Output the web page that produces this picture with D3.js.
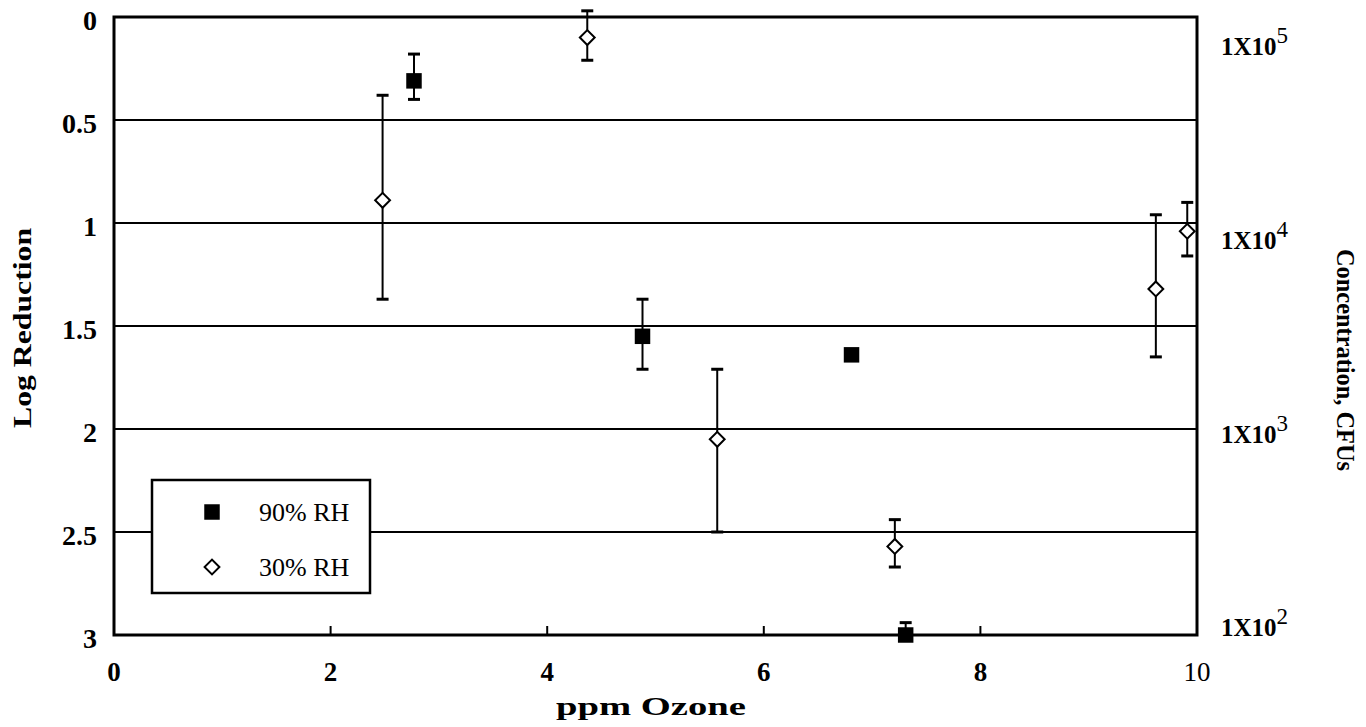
<!DOCTYPE html>
<html>
<head>
<meta charset="utf-8">
<script src="https://cdn.jsdelivr.net/npm/d3@7"></script>
<style>
  body { margin: 0; background: #fff; }
  svg { display: block; }
  text { font-family: "Liberation Serif", "DejaVu Serif", serif; fill: #000; }
</style>
</head>
<body>
<svg id="chart" width="1366" height="727"></svg>
<script>
// 90% RH (filled squares)
const rh90_x = [2.77, 4.88, 6.81, 7.31];
const rh90_y = [0.31, 1.55, 1.64, 3.0];
const rh90_lo = [0.18, 1.37, 1.62, 2.94];
const rh90_hi = [0.40, 1.71, 1.66, 3.0];

// 30% RH (open diamonds)
const rh30_x = [2.48, 4.37, 5.57, 7.21, 9.62, 9.91];
const rh30_y = [0.89, 0.10, 2.05, 2.57, 1.32, 1.04];
const rh30_lo = [0.38, -0.03, 1.71, 2.44, 0.96, 0.90];
const rh30_hi = [1.37, 0.21, 2.50, 2.67, 1.65, 1.16];

const xTicks = [0, 2, 4, 6, 8, 10];
const yTicks = [0, 0.5, 1, 1.5, 2, 2.5, 3];
const concTicks = [1e5, 1e4, 1e3, 1e2];
const concExp = ["5", "4", "3", "2"];

const svg = d3.select("#chart");
const mLeft = 114, mRight = 1197, mTop = 17, mBottom = 635;

const x = d3.scaleLinear().domain([0, 10]).range([mLeft, mRight]);
const y = d3.scaleLinear().domain([0, 3]).range([mTop, mBottom]);
// right-hand concentration axis (log)
const y2 = d3.scaleLog().domain([140000, 90]).range([mTop, mBottom]);

// gridlines
svg.append("g").selectAll("line")
  .data(yTicks.filter(d => d > 0 && d < 3))
  .enter().append("line")
  .attr("x1", mLeft).attr("x2", mRight)
  .attr("y1", d => y(d)).attr("y2", d => y(d))
  .attr("stroke", "#000").attr("stroke-width", 2);

// frame
svg.append("rect")
  .attr("x", mLeft).attr("y", mTop)
  .attr("width", mRight - mLeft).attr("height", mBottom - mTop)
  .attr("fill", "none").attr("stroke", "#000").attr("stroke-width", 3);

// x ticks (inside, short)
svg.append("g").selectAll("line")
  .data(xTicks.slice(1, -1))
  .enter().append("line")
  .attr("x1", d => x(d)).attr("x2", d => x(d))
  .attr("y1", mBottom).attr("y2", mBottom - 9)
  .attr("stroke", "#000").attr("stroke-width", 2);

// x tick labels
svg.append("g").selectAll("text")
  .data(xTicks)
  .enter().append("text")
  .attr("x", d => x(d)).attr("y", 681)
  .attr("text-anchor", "middle")
  .style("font-size", "27px")
  .style("font-weight", d => d === 10 ? "normal" : "bold")
  .text(d => d);

// y tick labels
svg.append("g").selectAll("text")
  .data(yTicks)
  .enter().append("text")
  .attr("x", 97).attr("y", d => y(d) + 13)
  .attr("text-anchor", "end")
  .style("font-size", "28px").style("font-weight", "bold")
  .text(d => d);

// right concentration labels
const conc = svg.append("g").selectAll("text")
  .data(concTicks)
  .enter().append("text")
  .attr("x", 1221).attr("y", d => y2(d) + 10)
  .style("font-size", "25px").style("font-weight", "bold");
conc.append("tspan").text("1X10");
conc.append("tspan").attr("dy", -12).style("font-size", "23px").style("font-weight", "normal")
  .text((d, i) => concExp[i]);

// axis titles
svg.append("text")
  .attr("transform", "translate(31," + 328 + ") rotate(-90)")
  .attr("text-anchor", "middle")
  .attr("textLength", 200).attr("lengthAdjust", "spacingAndGlyphs")
  .style("font-size", "25px").style("font-weight", "bold")
  .text("Log Reduction");
svg.append("text")
  .attr("transform", "translate(1337," + 360 + ") rotate(90)")
  .attr("text-anchor", "middle")
  .attr("textLength", 222).attr("lengthAdjust", "spacingAndGlyphs")
  .style("font-size", "25px").style("font-weight", "bold")
  .text("Concentration, CFUs");
svg.append("text")
  .attr("x", 651).attr("y", 715)
  .attr("text-anchor", "middle")
  .attr("textLength", 190).attr("lengthAdjust", "spacingAndGlyphs")
  .style("font-size", "25px").style("font-weight", "bold")
  .text("ppm Ozone");

// error bars
function errorBars(xs, lo, hi) {
  const g = svg.append("g").attr("stroke", "#000").attr("stroke-width", 2);
  const idx = d3.range(xs.length).filter(i => hi[i] - lo[i] > 0.05);
  g.selectAll(".v").data(idx).enter().append("line")
    .attr("x1", i => x(xs[i])).attr("x2", i => x(xs[i]))
    .attr("y1", i => y(lo[i])).attr("y2", i => y(hi[i]));
  g.selectAll(".t").data(idx).enter().append("line")
    .attr("x1", i => x(xs[i]) - 6).attr("x2", i => x(xs[i]) + 6)
    .attr("y1", i => y(lo[i])).attr("y2", i => y(lo[i])).attr("stroke-width", 3);
  g.selectAll(".b").data(idx.filter(i => hi[i] < 3)).enter().append("line")
    .attr("x1", i => x(xs[i]) - 6).attr("x2", i => x(xs[i]) + 6)
    .attr("y1", i => y(hi[i])).attr("y2", i => y(hi[i])).attr("stroke-width", 3);
}
errorBars(rh30_x, rh30_lo, rh30_hi);
errorBars(rh90_x, rh90_lo, rh90_hi);

const squareSym = d3.symbol().type(d3.symbolSquare).size(240);
const diamondSym = d3.symbol().type(d3.symbolSquare).size(110);

svg.append("g").selectAll("path")
  .data(d3.range(rh90_x.length))
  .enter().append("path")
  .attr("d", squareSym)
  .attr("transform", i => "translate(" + x(rh90_x[i]) + "," + y(rh90_y[i]) + ")")
  .attr("fill", "#000");

svg.append("g").selectAll("path")
  .data(d3.range(rh30_x.length))
  .enter().append("path")
  .attr("d", diamondSym)
  .attr("transform", i => "translate(" + x(rh30_x[i]) + "," + y(rh30_y[i]) + ") rotate(45)")
  .attr("fill", "#fff").attr("stroke", "#000").attr("stroke-width", 2);

// legend
const lg = svg.append("g");
lg.append("rect")
  .attr("x", 152).attr("y", 480).attr("width", 218).attr("height", 113)
  .attr("fill", "#fff").attr("stroke", "#000").attr("stroke-width", 2.5);
lg.append("path").attr("d", squareSym)
  .attr("transform", "translate(212,512)").attr("fill", "#000");
lg.append("path").attr("d", diamondSym)
  .attr("transform", "translate(212,567) rotate(45)")
  .attr("fill", "#fff").attr("stroke", "#000").attr("stroke-width", 2);
lg.append("text").attr("x", 259).attr("y", 521)
  .style("font-size", "26px").text("90% RH");
lg.append("text").attr("x", 259).attr("y", 576)
  .style("font-size", "26px").text("30% RH");
</script>
</body>
</html>
